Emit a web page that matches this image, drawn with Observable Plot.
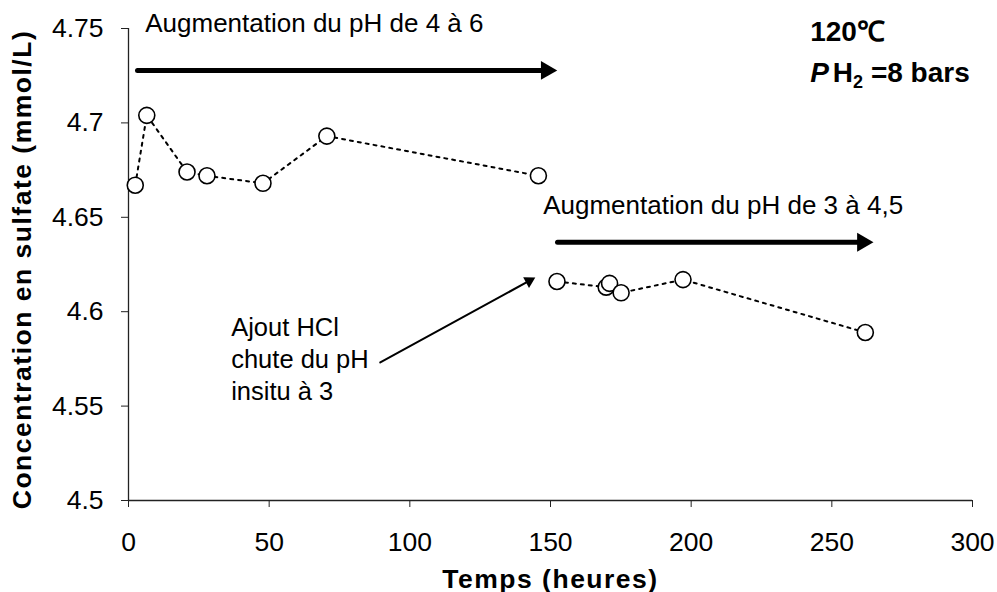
<!DOCTYPE html>
<html>
<head>
<meta charset="utf-8">
<script src="https://cdn.jsdelivr.net/npm/d3@7"></script>
<script src="https://cdn.jsdelivr.net/npm/@observablehq/plot@0.6"></script>
<style>
  html, body { margin: 0; padding: 0; background: #fff; }
  #chart { width: 997px; height: 592px; }
</style>
</head>
<body>
<div id="chart"></div>
<script>
// ---- data ----
const times = [2.4, 6.5, 20.8, 27.9, 47.8, 70.5, 145.7, 152.3, 169.8, 171.0, 175.1, 197.1, 261.9];
const sulfate = [4.667, 4.704, 4.674, 4.672, 4.668, 4.693, 4.672, 4.616, 4.613, 4.615, 4.610, 4.617, 4.589];
const phase = ["pH 4-6", "pH 4-6", "pH 4-6", "pH 4-6", "pH 4-6", "pH 4-6", "pH 4-6",
               "pH 3-4,5", "pH 3-4,5", "pH 3-4,5", "pH 3-4,5", "pH 3-4,5", "pH 3-4,5"];

const xTicks = [0, 50, 100, 150, 200, 250, 300];
const xTickLabels = ["0", "50", "100", "150", "200", "250", "300"];
const yTicks = [4.5, 4.55, 4.6, 4.65, 4.7, 4.75];
const yTickLabels = ["4.5", "4.55", "4.6", "4.65", "4.7", "4.75"];

const xLabel = "Temps (heures)";
const yLabel = "Concentration en sulfate (mmol/L)";

// annotations (data units)
const phArrowX1 = [3.2, 152.5];
const phArrowX2 = [152.4, 264.8];
const phArrowY = [4.7278, 4.6368];
const phTexts = ["Augmentation du pH de 4 à 6", "Augmentation du pH de 3 à 4,5"];
const phTextX = [5.95, 147.4];
const phTextY = [4.7479, 4.6519];

const hclText = "Ajout HCl\nchute du pH\ninsitu à 3";
const hclTextX = [36.5];
const hclTextY = [4.553];
const hclArrowX = [89.5, 144.6];
const hclArrowY = [4.5731, 4.6181];

const condTexts = ["120℃", "PH2 =8 bars"];
const condX = [242.3, 242.3];
const condY = [4.7436, 4.7214];

// ---- layout ----
const W = 997, H = 592, mL = 128, mR = 25, mT = 28, mB = 92;
const xs = d3.scaleLinear([0, 300], [mL, W - mR]);
const ys = d3.scaleLinear([4.5, 4.75], [H - mB, mT]);

const pts = times.map((t, i) => ({t, c: sulfate[i], g: phase[i]}));
const thick = phArrowX1.map((x1, i) => ({x1, x2: phArrowX2[i], y: phArrowY[i]}));
const phLabels = phTexts.map((s, i) => ({s, x: phTextX[i], y: phTextY[i]}));
const conds = condTexts.map((s, i) => ({s, x: condX[i], y: condY[i]}));

// thin arrow head geometry from the scales
const px1 = xs(hclArrowX[0]), py1 = ys(hclArrowY[0]);
const px2 = xs(hclArrowX[1]), py2 = ys(hclArrowY[1]);
const theta = Math.atan2(py2 - py1, px2 - px1);
const thetaDeg = theta * 180 / Math.PI;
const headR = 4.5, headTip = 2 * headR * Math.sqrt(Math.PI / (3 * Math.sqrt(3)));
const bigR = 7, bigTip = 2 * bigR * Math.sqrt(Math.PI / (3 * Math.sqrt(3)));

const font = "'Liberation Sans', Arial, Helvetica, sans-serif";

const plot = Plot.plot({
  width: W,
  height: H,
  marginLeft: mL,
  marginRight: mR,
  marginTop: mT,
  marginBottom: mB,
  style: {fontFamily: font, fontSize: "26px", color: "#000", background: "#fff", overflow: "visible"},
  x: {domain: [0, 300]},
  y: {domain: [4.5, 4.75]},
  marks: [
    Plot.axisX({ticks: xTicks, tickFormat: d => xTickLabels[xTicks.indexOf(d)], tickSize: 7, tickPadding: 25, label: null, fontSize: 26.5, stroke: "#222"}),
    Plot.axisY({ticks: yTicks, tickFormat: d => yTickLabels[yTicks.findIndex(v => Math.abs(v - d) < 1e-9)], tickSize: 7, tickPadding: 18, label: null, fontSize: 26.5, stroke: "#222"}),
    Plot.ruleX([0], {stroke: "#222", strokeWidth: 1.3}),
    Plot.ruleY([4.5], {stroke: "#222", strokeWidth: 1.3}),
    Plot.line(pts, {x: "t", y: "c", z: "g", stroke: "#000", strokeWidth: 2, strokeDasharray: "3,5"}),
    Plot.dot(pts, {x: "t", y: "c", r: 8, fill: "#fff", stroke: "#000", strokeWidth: 1.6}),
    // thick arrows
    Plot.arrow(thick, {x1: "x1", x2: "x2", y1: "y", y2: "y", stroke: "#000", strokeWidth: 5, headLength: 0, insetEnd: bigTip - 2}),
    Plot.dot(thick, {x: "x2", y: "y", symbol: "triangle", r: bigR, rotate: 90, fill: "#000", stroke: null, dx: -bigTip}),
    // thin arrow
    Plot.arrow([0], {x1: () => hclArrowX[0], y1: () => hclArrowY[0], x2: () => hclArrowX[1], y2: () => hclArrowY[1], stroke: "#000", strokeWidth: 2, headLength: 0, insetEnd: headTip - 1}),
    Plot.dot([0], {x: () => hclArrowX[1], y: () => hclArrowY[1], symbol: "triangle", r: headR, rotate: thetaDeg + 90, fill: "#000", stroke: null, dx: -headTip * Math.cos(theta), dy: -headTip * Math.sin(theta)}),
    // texts
    Plot.text(phLabels, {x: "x", y: "y", text: "s", textAnchor: "start", lineAnchor: "bottom", fontSize: 26, fill: "#000"}),
    Plot.text([hclText], {x: () => hclTextX[0], y: () => hclTextY[0], text: d => d, textAnchor: "start", lineAnchor: "bottom", lineHeight: 1.27, fontSize: 25.5, fill: "#000"}),
    Plot.text(conds, {x: "x", y: "y", text: "s", textAnchor: "start", lineAnchor: "bottom", fontSize: 28, fontWeight: "bold", fill: "#000"}),
    Plot.text([xLabel], {frameAnchor: "bottom", text: d => d, textAnchor: "middle", lineAnchor: "bottom", dy: 87, fontSize: 26.5, fontWeight: "bold", fill: "#000"}),
    Plot.text([yLabel], {frameAnchor: "left", text: d => d, textAnchor: "middle", rotate: -90, lineAnchor: "middle", dx: -106, dy: 5, fontSize: 26.5, fontWeight: "bold", fill: "#000"})
  ]
});

// rich-text and spacing tweaks
d3.select(plot).selectAll("text").each(function() {
  const t = this.textContent;
  if (t === condTexts[1]) {
    const el = d3.select(this);
    el.text("");
    el.append("tspan").attr("font-style", "italic").text("P");
    el.append("tspan").attr("dx", 4).text("H");
    el.append("tspan").attr("font-size", "18px").attr("dy", 6).text("2");
    el.append("tspan").attr("dy", -6).text(" =8 bars");
  } else if (t === xLabel || t === yLabel) {
    d3.select(this).attr("letter-spacing", "1.5px");
  }
});

document.getElementById("chart").appendChild(plot);
</script>
</body>
</html>
